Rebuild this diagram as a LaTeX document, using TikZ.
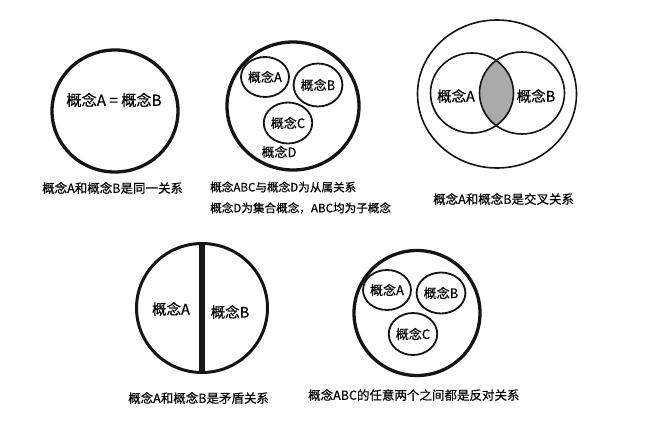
\documentclass[tikz,border=0pt]{standalone}
\usepackage{fontspec}
\setmainfont{Noto Sans CJK SC}[FakeBold=0.5]
\usetikzlibrary{shapes.geometric}
\definecolor{lensgray}{RGB}{170,170,170}
\definecolor{ink}{RGB}{20,20,20}
\tikzset{
  bigc/.style={draw=ink, ellipse, line width=3.3pt, inner sep=0pt},
  smallc/.style={draw=ink, ellipse, line width=1.8pt, inner sep=0pt, font=\fontsize{13}{15}\selectfont},
  thinc/.style={draw=ink, ellipse, line width=1.6pt, inner sep=0pt},
  captext/.style={anchor=west, inner sep=0pt, font=\fontsize{12.5}{14}\selectfont},
  captextsm/.style={anchor=west, inner sep=0pt, font=\fontsize{11.6}{14}\selectfont},
  lbl/.style={inner sep=0pt, font=\fontsize{14.5}{16}\selectfont},
}
\begin{document}
\begin{tikzpicture}[x=1pt,y=-1pt]
\useasboundingbox (0,0) rectangle (660,441);
\fill[white] (0,0) rectangle (660,441);

% ---- 1: identity
\node[bigc, minimum width=126pt, minimum height=122pt] (c1) at (115,111) {};
\node[lbl, font=\fontsize{15.2}{17}\selectfont] (t1) at (114,100) {概念A = 概念B};
\node[captext] (cap1) at (42,188) {概念A和概念B是同一关系};

% ---- 2: subordination
\node[bigc, minimum width=132pt, minimum height=128pt] (c2) at (293,106) {};
\node[smallc, minimum width=44pt, minimum height=40pt] (c2a) at (265,77) {概念A};
\node[smallc, minimum width=43pt, minimum height=43pt] (c2b) at (318,85) {概念B};
\node[smallc, minimum width=41pt, minimum height=41pt] (c2c) at (288,123) {概念C};
\node[lbl, font=\fontsize{13}{15}\selectfont] (t2d) at (279,152) {概念D};
\node[captextsm] (cap2a) at (210,187) {概念ABC与概念D为从属关系};
\node[captextsm] (cap2b) at (210,208) {概念D为集合概念，ABC均为子概念};

% ---- 3: intersection
\begin{scope}
  \clip (472,93) ellipse [x radius=41.5pt, y radius=40pt];
  \fill[lensgray] (522,93) ellipse [x radius=42.5pt, y radius=41pt];
\end{scope}
\node[thinc, minimum width=159pt, minimum height=148pt] (c3) at (497,94) {};
\node[thinc, minimum width=83pt, minimum height=80pt] (c3a) at (472,93) {};
\node[thinc, minimum width=85pt, minimum height=82pt] (c3b) at (522,93) {};
\node[lbl] (t3a) at (456,96) {概念A};
\node[lbl] (t3b) at (536,96) {概念B};
\node[captext] (cap3) at (433,199) {概念A和概念B是交叉关系};

% ---- 4: contradiction
\node[bigc, line width=3pt, minimum width=131pt, minimum height=129pt] (c4) at (202,308) {};
\draw[ink, line width=6.5pt] (c4.north) -- (c4.south);
\node[lbl] (t4a) at (171,309) {概念A};
\node[lbl] (t4b) at (230,312) {概念B};
\node[captext] (cap4) at (128,398) {概念A和概念B是矛盾关系};

% ---- 5: contrariety
\node[bigc, minimum width=126pt, minimum height=125pt] (c5) at (417,313) {};
\node[smallc, minimum width=41pt, minimum height=40pt] (c5a) at (387,290) {概念A};
\node[smallc, minimum width=42pt, minimum height=41pt] (c5b) at (441,293) {概念B};
\node[smallc, minimum width=41pt, minimum height=42pt] (c5c) at (413,334) {概念C};
\node[captext] (cap5) at (308,395) {概念ABC的任意两个之间都是反对关系};
\end{tikzpicture}
\end{document}
